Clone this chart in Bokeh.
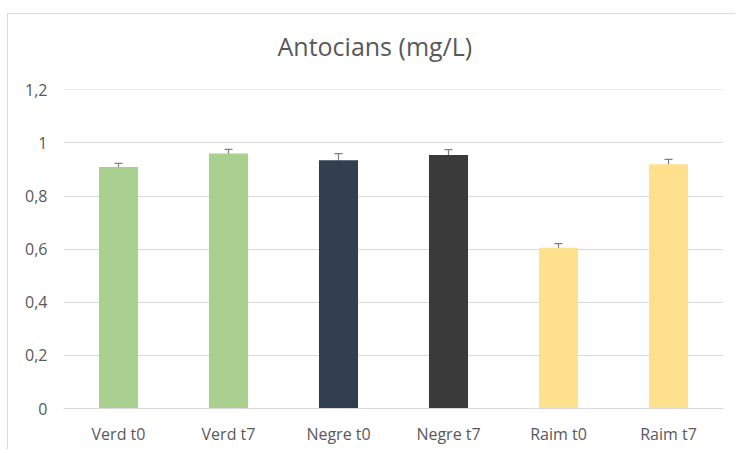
from bokeh.plotting import figure
from bokeh.models import ColumnDataSource, Whisker, FixedTicker, CustomJSTickFormatter, TeeHead, Range1d
from bokeh.embed import file_html
from bokeh.resources import INLINE

title_text = "Antocians (mg/L)"
categories = ["Verd t0", "Verd t7", "Negre t0", "Negre t7", "Raim t0", "Raim t7"]
values = [0.91, 0.96, 0.935, 0.955, 0.605, 0.92]
errors = [0.013, 0.016, 0.025, 0.02, 0.016, 0.018]
colors = ["#a9d08e", "#a9d08e", "#323f4f", "#3a3a3a", "#ffe08c", "#ffe08c"]
y_ticks = [0, 0.2, 0.4, 0.6, 0.8, 1.0, 1.2]

src = ColumnDataSource(dict(
    cat=categories, val=values, color=colors,
    upper=[v + e for v, e in zip(values, errors)],
    lower=[v - e for v, e in zip(values, errors)],
))

p = figure(x_range=categories, y_range=Range1d(0, 1.2015), width=735, height=449,
           output_backend="svg", toolbar_location=None,
           min_border_left=63, min_border_right=12, min_border_top=75, min_border_bottom=41,
           title=title_text)
p.styles = {
    "background": ("linear-gradient(#d9d9d9, #d9d9d9) no-repeat 7px 13px / 100% 1px, "
                   "linear-gradient(#d9d9d9, #d9d9d9) no-repeat 7px 13px / 1px 100%, white"),
}
p.outline_line_color = None
p.background_fill_color = "white"
p.border_fill_color = "white"
p.border_fill_alpha = 0

p.title.align = "left"
p.title.offset = 214
p.title.text_font = "Open Sans"
p.title.text_font_size = "25px"
p.title.text_font_style = "normal"
p.title.text_color = "#595959"
p.title.standoff = 53

p.vbar(x="cat", top="val", width=0.355, fill_color="color", line_color=None, source=src)

w = Whisker(base="cat", upper="upper", lower="lower", source=src,
            line_color="#7f7f7f", line_width=1.2,
            upper_head=TeeHead(size=8, line_color="#7f7f7f", line_width=1.2),
            lower_head=TeeHead(size=8, line_color="#7f7f7f", line_width=1.2))
p.add_layout(w)

p.yaxis.ticker = FixedTicker(ticks=y_ticks)
p.yaxis.formatter = CustomJSTickFormatter(code="return tick.toFixed(1).replace('.', ',').replace(',0', '');")
p.yaxis.axis_line_color = None
p.yaxis.major_label_standoff = 16

p.xaxis.axis_line_color = "#d9d9d9"
p.xaxis.major_label_standoff = 14

for ax in (p.xaxis, p.yaxis):
    ax.major_tick_line_color = None
    ax.minor_tick_line_color = None
    ax.major_tick_out = 0
    ax.major_tick_in = 0
    ax.minor_tick_out = 0
    ax.major_label_text_font = "Open Sans"
    ax.major_label_text_font_size = "16px"
    ax.major_label_text_color = "#595959"

p.xgrid.grid_line_color = None
p.ygrid.grid_line_color = "#d9d9d9"
p.ygrid.grid_line_width = 1

open("out.html", "w").write(file_html(p, INLINE))
